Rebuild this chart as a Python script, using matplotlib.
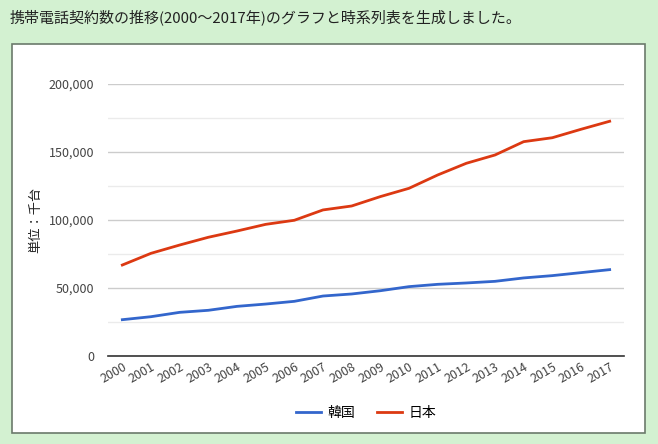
import matplotlib
matplotlib.use('Agg')
import matplotlib.pyplot as plt
from matplotlib.patches import Rectangle
from matplotlib.ticker import FuncFormatter, MultipleLocator

plt.rcParams['font.family'] = ['Noto Sans CJK JP', 'DejaVu Sans']

years = [str(y) for y in range(2000, 2018)]
korea = [26700, 28900, 32100, 33600, 36500, 38200, 40200, 44100, 45600,
         48000, 51000, 52700, 53700, 54900, 57400, 59100, 61300, 63500]
japan = [66900, 75500, 81600, 87300, 91900, 96800, 99800, 107400, 110300,
         117200, 123300, 133100, 141700, 147800, 157600, 160500, 166700, 172600]

title = '携帯電話契約数の推移(2000～2017年)のグラフと時系列表を生成しました。'
bg = '#d3f1d1'

fig = plt.figure(figsize=(6.58, 4.44), dpi=100, facecolor=bg)
fig.patches.append(Rectangle((12 / 658, 1 - 433 / 444), 633 / 658, 389 / 444,
                             transform=fig.transFigure, facecolor='white',
                             edgecolor='#6b7a6b', linewidth=1.2, zorder=-1))
fig.text(10 / 658, 1 - 17 / 444, title, fontsize=10.8, color='#222222', va='center')

ax = fig.add_axes([108 / 658, 1 - 356 / 444, 516 / 658, 272 / 444])
ax.set_zorder(2)
ax.set_facecolor('none')
x = list(range(len(years)))
ax.plot(x, korea, color='#3366cc', linewidth=2, label='韓国')
ax.plot(x, japan, color='#dc3912', linewidth=2, label='日本')

ax.set_xlim(-0.5, len(years) - 0.5)
ax.set_ylim(0, 200000)
ax.yaxis.set_major_locator(MultipleLocator(50000))
ax.yaxis.set_minor_locator(MultipleLocator(25000))
ax.yaxis.set_major_formatter(FuncFormatter(lambda v, p: '{:,.0f}'.format(v)))
ax.grid(axis='y', which='major', color='#cccccc', linewidth=1)
ax.grid(axis='y', which='minor', color='#ebebeb', linewidth=1)
ax.set_axisbelow(True)
for s in ['top', 'right', 'left']:
    ax.spines[s].set_visible(False)
ax.spines['bottom'].set_color('#333333')
ax.spines['bottom'].set_linewidth(1.2)
ax.tick_params(axis='both', which='both', length=0, colors='#444444', labelsize=9)
ax.tick_params(axis='y', pad=10)
ax.set_xticks(x)
ax.set_xticklabels(years, rotation=30, ha='right', rotation_mode='anchor')
ax.tick_params(axis='x', pad=3)
ax.set_ylabel('単位：千台', fontsize=9.5, color='#222222')
ax.yaxis.set_label_coords(-0.128, 0.5)

ax.legend(loc='center', bbox_to_anchor=(0.5, -0.21), ncol=2, frameon=False,
          fontsize=10, handlelength=1.8, columnspacing=1.6, handletextpad=0.45)

fig.savefig('out.png', dpi=100, facecolor=bg)
